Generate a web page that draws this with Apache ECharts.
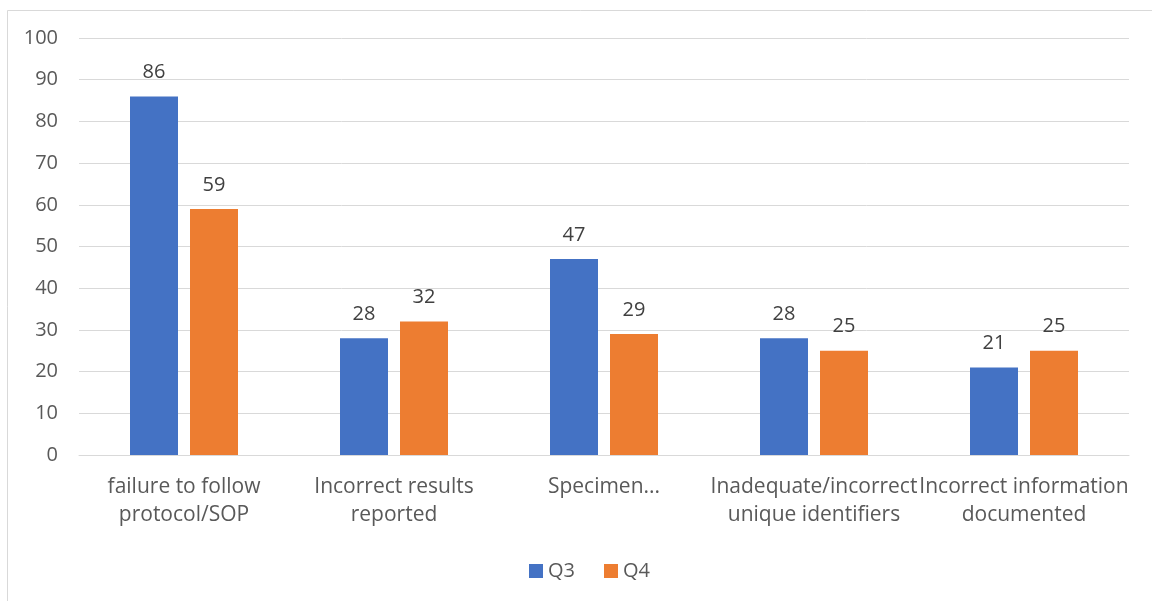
<!DOCTYPE html>
<html>
<head>
<meta charset="utf-8">
<script src="https://cdn.jsdelivr.net/npm/echarts@6/dist/echarts.min.js"></script>
<style>
  html, body { margin: 0; padding: 0; background: #ffffff; }
  #chart { width: 1152px; height: 601px; }
</style>
</head>
<body>
<div id="chart"></div>
<script>
// Nonconformance categories and quarterly counts
const categories = [
  'failure to follow\nprotocol/SOP',
  'Incorrect results\nreported',
  'Specimen...',
  'Inadequate/incorrect\nunique identifiers',
  'Incorrect information\ndocumented'
];
const q3Values = [86, 28, 47, 28, 21];
const q4Values = [59, 32, 29, 25, 25];
const seriesNames = ['Q3', 'Q4'];

const textColor = '#595959';
const fontFamily = '"Open Sans", sans-serif';

const chart = echarts.init(document.getElementById('chart'), null, { renderer: 'canvas' });

const labelStyle = {
  show: true,
  position: 'top',
  distance: 14,
  color: '#404040',
  fontSize: 20,
  fontFamily: fontFamily
};

chart.setOption({
  animation: false,
  backgroundColor: '#ffffff',
  graphic: [{
    type: 'rect',
    shape: { x: 7.5, y: 10.5, width: 1160, height: 620 },
    style: { fill: 'none', stroke: '#d9d9d9', lineWidth: 1 },
    silent: true,
    z: -1
  }],
  grid: { left: 79, right: 23, top: 38, bottom: 146, containLabel: false },
  legend: {
    data: seriesNames,
    bottom: 15,
    left: 524,
    itemWidth: 14,
    itemHeight: 14,
    itemGap: 29,
    icon: 'rect',
    textStyle: { color: textColor, fontSize: 20, fontFamily: fontFamily }
  },
  xAxis: {
    type: 'category',
    data: categories,
    axisTick: { show: false },
    axisLine: { show: true, lineStyle: { color: '#d9d9d9', width: 1 } },
    axisLabel: {
      interval: 0,
      color: textColor,
      fontSize: 21,
      lineHeight: 28,
      margin: 18,
      fontFamily: fontFamily
    }
  },
  yAxis: {
    type: 'value',
    min: 0,
    max: 100,
    interval: 10,
    axisLine: { show: false },
    axisTick: { show: false },
    splitLine: { lineStyle: { color: '#d9d9d9', width: 1 } },
    axisLabel: { color: textColor, fontSize: 20, margin: 21, fontFamily: fontFamily, padding: [4, 0, 0, 0] }
  },
  series: [
    {
      name: seriesNames[0],
      type: 'bar',
      data: q3Values,
      barWidth: 48,
      barGap: '25%',
      itemStyle: { color: '#4472c4' },
      label: labelStyle
    },
    {
      name: seriesNames[1],
      type: 'bar',
      data: q4Values,
      barWidth: 48,
      barGap: '25%',
      itemStyle: { color: '#ed7d31' },
      label: labelStyle
    }
  ]
});
</script>
</body>
</html>
